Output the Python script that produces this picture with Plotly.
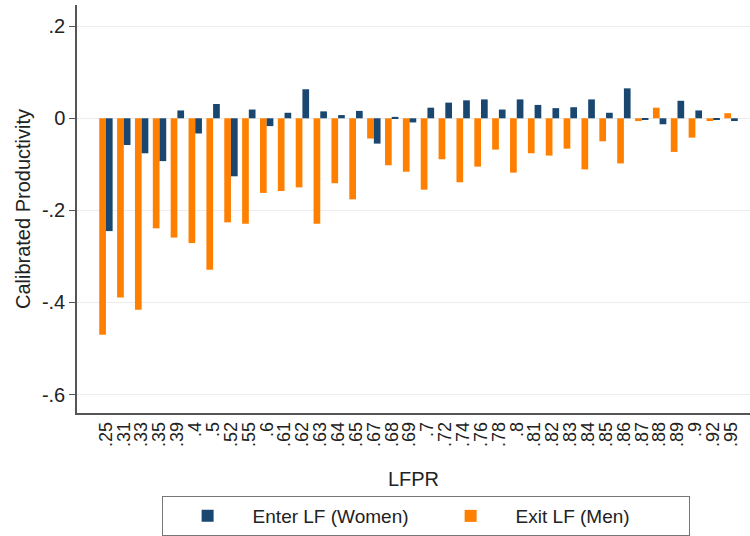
import plotly.graph_objects as go

lfpr = [".25", ".31", ".33", ".35", ".39", ".4", ".5", ".52", ".55", ".6",
        ".61", ".62", ".63", ".64", ".65", ".67", ".68", ".69", ".7", ".72",
        ".74", ".76", ".78", ".8", ".81", ".82", ".83", ".84", ".85", ".86",
        ".87", ".88", ".89", ".9", ".92", ".95"]

enter_women = [-0.245, -0.058, -0.076, -0.093, 0.017, -0.033, 0.031, -0.126, 0.019, -0.017,
               0.012, 0.063, 0.015, 0.007, 0.016, -0.055, 0.003, -0.009, 0.023, 0.034,
               0.039, 0.041, 0.019, 0.041, 0.029, 0.022, 0.024, 0.041, 0.012, 0.065,
               -0.003, -0.013, 0.038, 0.017, -0.002, -0.006]

exit_men = [-0.470, -0.389, -0.416, -0.239, -0.259, -0.271, -0.329, -0.226, -0.229, -0.162,
            -0.158, -0.150, -0.229, -0.141, -0.176, -0.044, -0.102, -0.116, -0.155, -0.089,
            -0.139, -0.105, -0.068, -0.118, -0.076, -0.081, -0.066, -0.111, -0.050, -0.098,
            -0.006, 0.023, -0.073, -0.042, -0.006, 0.011]

ytick_vals = [-0.6, -0.4, -0.2, 0, 0.2]
ytick_text = ["-.6", "-.4", "-.2", "0", ".2"]

NAVY = "#1a476f"
ORANGE = "#ff7f00"
FONT = "Liberation Sans, Arial, sans-serif"

fig = go.Figure()
fig.add_trace(go.Bar(x=lfpr, y=exit_men, name="Exit LF (Men)",
                     marker=dict(color=ORANGE, line=dict(width=0)), legendrank=2))
fig.add_trace(go.Bar(x=lfpr, y=enter_women, name="Enter LF (Women)",
                     marker=dict(color=NAVY, line=dict(width=0)), legendrank=1))

fig.update_layout(
    width=750, height=536,
    margin=dict(l=77, r=0, t=5, b=123, autoexpand=False),
    paper_bgcolor="white", plot_bgcolor="white",
    barmode="group", bargap=0.25, bargroupgap=0,
    font=dict(family=FONT, color="#222222", size=19),
    showlegend=True,
    legend=dict(orientation="h", x=0.518, xanchor="center", y=-0.2525, yanchor="middle",
                bordercolor="#777777", borderwidth=1, bgcolor="white",
                font=dict(size=19, family=FONT), entrywidth=168, itemwidth=80,
                traceorder="normal"),
    xaxis=dict(
        type="category", range=[-1.62, 36.06],
        tickmode="array", tickvals=lfpr, ticktext=lfpr,
        tickangle=-90, tickfont=dict(size=18, family=FONT),
        showline=True, linecolor="#555555", linewidth=1.5,
        ticks="", showgrid=False, zeroline=False,
        title=dict(text="LFPR", font=dict(size=20), standoff=26),
    ),
    yaxis=dict(
        range=[-0.64, 0.246],
        tickvals=ytick_vals, ticktext=ytick_text,
        tickfont=dict(size=20, family=FONT),
        showline=True, linecolor="#555555", linewidth=1.5,
        ticks="outside", ticklen=6, tickcolor="#555555",
        showgrid=True, gridcolor="#ececec", gridwidth=1,
        zeroline=True, zerolinecolor="#ececec", zerolinewidth=1,
        title=dict(text="Calibrated Productivity", font=dict(size=20), standoff=6),
    ),
)

fig.write_html("out.html")
